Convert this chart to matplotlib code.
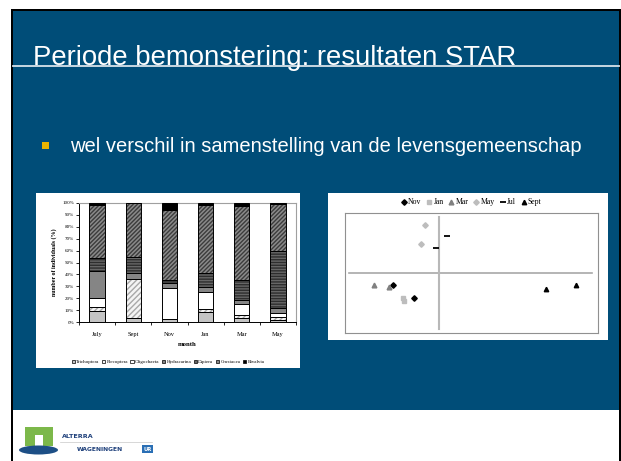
import matplotlib
matplotlib.use('Agg')
import matplotlib.pyplot as plt
import matplotlib.patches as mpatches
import numpy as np

# ---- data: stacked bar chart (percent of individuals per month) ----
months = ['July', 'Sept', 'Nov', 'Jan', 'Mar', 'May']
taxa = ['Trichoptera', 'Plecoptera', 'Oligochaeta', 'Hydracarina',
        'Diptera', 'Crustacea', 'Bivalvia']
trichoptera = [9.0, 3.6, 2.8, 8.4, 3.4, 2.0]
plecoptera = [3.5, 32.4, 0.0, 2.5, 2.8, 1.9]
oligochaeta = [7.5, 0.0, 25.8, 14.0, 8.9, 3.7]
hydracarina = [23.0, 5.5, 4.2, 4.5, 3.7, 4.2]
diptera = [11.0, 13.0, 2.8, 11.8, 16.2, 48.0]
crustacea = [44.6, 45.5, 58.8, 56.8, 62.2, 39.1]
bivalvia = [1.4, 0.0, 5.6, 2.0, 2.8, 1.1]
series = [trichoptera, plecoptera, oligochaeta, hydracarina,
          diptera, crustacea, bivalvia]

# ---- data: ordination scatter (two samples per month) ----
ord_months = ['Nov', 'Jan', 'Mar', 'May', 'Jul', 'Sept']
ord_x = [[-0.93, -0.50], [-0.73, -0.71], [-1.31, -1.01],
         [-0.29, -0.37], [0.15, -0.07], [2.13, 2.73]]
ord_y = [[-0.24, -0.49], [-0.49, -0.56], [-0.24, -0.27],
         [0.97, 0.58], [0.75, 0.51], [-0.32, -0.23]]

title = 'Periode bemonstering: resultaten STAR'
bullet = 'wel verschil in samenstelling van de levensgemeenschap'

W, H = 621, 461
BLUE = '#004d78'
fig = plt.figure(figsize=(W / 100, H / 100), dpi=100)
fig.patch.set_facecolor('white')

# background axes in pixel coordinates
bg = fig.add_axes([0, 0, 1, 1])
bg.set_xlim(0, W)
bg.set_ylim(H, 0)
bg.axis('off')

bg.add_patch(mpatches.Rectangle((11, 9), 610, 452, facecolor='black', lw=0))
bg.add_patch(mpatches.Rectangle((13, 11), 606, 450, facecolor='white', lw=0))
bg.add_patch(mpatches.Rectangle((13, 11), 606, 399, facecolor=BLUE, lw=0))
bg.plot([13, 619], [66.5, 66.5], color='#d8e2ea', lw=1.3)

bg.text(33, 65, title, color='white', fontsize=19.8, family='Liberation Sans',
        va='baseline', ha='left')
bg.add_patch(mpatches.Rectangle((42, 142), 6.5, 6.5, facecolor='#e8b400', lw=0))
bg.text(70, 146, bullet, color='white', fontsize=14.5, family='Liberation Sans',
        va='center', ha='left')

# white chart boxes
bg.add_patch(mpatches.Rectangle((36, 193), 264, 175, facecolor='white', lw=0))
bg.add_patch(mpatches.Rectangle((328, 193), 280, 147, facecolor='white', lw=0))

# logo
bg.add_patch(mpatches.Rectangle((25, 427), 28, 19, facecolor='#7cb84a', lw=0))
bg.add_patch(mpatches.Rectangle((35, 435), 8, 11, facecolor='white', lw=0))
bg.add_patch(mpatches.Ellipse((38.5, 450), 39, 9, facecolor='#1d4f86', lw=0))
bg.text(62, 436, 'ALTERRA', color='#1d3f7a', fontsize=4.6, fontweight='bold',
        family='DejaVu Sans', va='center')
bg.plot([60, 152], [442, 442], color='#c8c8c8', lw=0.5)
bg.text(77, 449, 'WAGENINGEN', color='#1d3f7a', fontsize=4.3, fontweight='bold',
        family='DejaVu Sans', va='center')
bg.add_patch(mpatches.Rectangle((142, 445), 11, 8, facecolor='#2a6fb5', lw=0))
bg.text(147.5, 449, 'UR', color='white', fontsize=3.8, fontweight='bold',
        family='DejaVu Sans', va='center', ha='center')

# ---- stacked bar chart ----
styles = [
    dict(fc='#c4c4c4', hatch=None, hc=None),
    dict(fc='#f4f4f4', hatch='//////', hc='#a8a8a8'),
    dict(fc='white', hatch=None, hc=None),
    dict(fc='#858585', hatch=None, hc=None),
    dict(fc='#666666', hatch='------', hc='#2e2e2e'),
    dict(fc='#8a8a8a', hatch='////////', hc='#3c3c3c'),
    dict(fc='black', hatch=None, hc=None),
]

def fx(px):
    return px / W

def fy(py):
    return 1 - py / H

ax1 = fig.add_axes([fx(79), fy(322), fx(296) - fx(79), fy(203) - fy(322)])
x = np.arange(len(months))
bottom = np.zeros(len(months))
for vals, st in zip(series, styles):
    vals = np.array(vals) / 100.0
    if st['hatch']:
        ax1.bar(x, vals, 0.42, bottom=bottom, color=st['fc'], hatch=st['hatch'],
                edgecolor=st['hc'], lw=0, zorder=2)
        ax1.bar(x, vals, 0.42, bottom=bottom, fill=False, edgecolor='black',
                lw=0.7, zorder=3)
    else:
        ax1.bar(x, vals, 0.42, bottom=bottom, color=st['fc'], edgecolor='black',
                lw=0.7, zorder=3)
    bottom += vals

ax1.set_xlim(-0.5, 5.5)
ax1.set_ylim(0, 1)
ax1.set_yticks(np.arange(0, 1.01, 0.1))
ax1.set_yticklabels(['%d%%' % v for v in range(0, 101, 10)],
                    fontsize=3.6, family='Liberation Serif')
ax1.set_xticks(x)
ax1.set_xticklabels(months, fontsize=4.6, family='Liberation Serif')
ax1.set_xticks(np.arange(-0.5, 5.6, 1), minor=True)
ax1.tick_params(axis='x', which='major', length=0, pad=7)
ax1.tick_params(axis='x', which='minor', length=2, width=0.6, direction='out')
ax1.tick_params(axis='y', length=2, width=0.6, pad=1.5, direction='out')
for s in ['left', 'bottom']:
    ax1.spines[s].set_linewidth(0.7)
for s in ['top', 'right']:
    ax1.spines[s].set_color('#a0a0a0')
    ax1.spines[s].set_linewidth(0.8)
ax1.set_ylabel('number of individuals (%)', fontsize=4.3, fontweight='bold',
               family='Liberation Serif', labelpad=4)
ax1.set_xlabel('month', fontsize=4.8, fontweight='bold',
               family='Liberation Serif', labelpad=4)
handles = [mpatches.Patch(facecolor=st['fc'], edgecolor='black', lw=0.5)
           for st in styles]
ax1.legend(handles, taxa, loc='center', bbox_to_anchor=(0.41, -0.336), ncol=7,
           frameon=False, prop={'family': 'Liberation Serif', 'size': 3.6},
           handlelength=0.7, handleheight=0.7, handletextpad=0.2,
           columnspacing=0.5, borderaxespad=0)

# ---- ordination scatter ----
ax2 = fig.add_axes([fx(345), fy(333), fx(598) - fx(345), fy(213) - fy(333)])
mstyle = {
    'Nov': dict(marker='D', color='black', ms=2.8),
    'Jan': dict(marker='s', color='#bdbdbd', ms=3.2),
    'Mar': dict(marker='^', color='#808080', ms=3.4),
    'May': dict(marker='D', color='#bdbdbd', ms=2.8),
    'Jul': dict(marker='_', color='black', ms=4.5, mew=1.3),
    'Sept': dict(marker='^', color='black', ms=3.2),
}
for m, xs, ys in zip(ord_months, ord_x, ord_y):
    ax2.plot(xs, ys, ls='none', label=m, zorder=3, **mstyle[m])
ax2.plot([-1.8, 3.06], [0, 0], color='#a8a8a8', lw=1.2, zorder=1)
ax2.plot([0, 0], [-1.12, 1.12], color='#b8b8b8', lw=1.5, zorder=1)
ax2.set_xlim(-1.88, 3.18)
ax2.set_ylim(-1.2, 1.2)
ax2.set_xticks([])
ax2.set_yticks([])
for s in ax2.spines.values():
    s.set_color('#909090')
    s.set_linewidth(0.8)
ax2.legend(loc='lower center', bbox_to_anchor=(0.5, 1.03), ncol=6, frameon=False,
           prop={'family': 'Liberation Serif', 'size': 5.6}, handlelength=0.6,
           handletextpad=0.25, columnspacing=0.7, borderaxespad=0, numpoints=1)

fig.savefig('out.png', dpi=100)
